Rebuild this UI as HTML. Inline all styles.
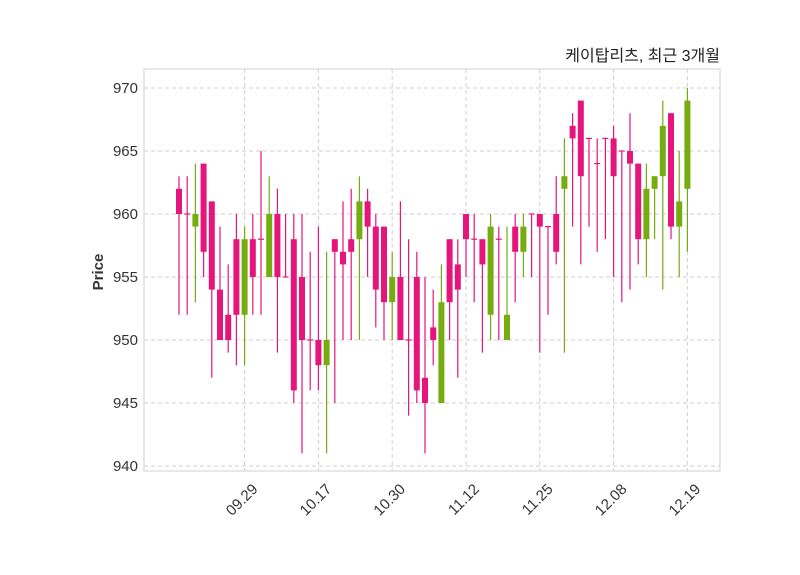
<!DOCTYPE html>
<html><head><meta charset="utf-8"><style>
body{margin:0;background:#fff;}
svg{display:block;font-family:"Liberation Sans","Noto Sans CJK KR",sans-serif;}
</style></head><body>
<svg id="s" width="800" height="575" viewBox="0 0 800 575" xmlns="http://www.w3.org/2000/svg">
<rect x="0" y="0" width="800" height="575" fill="#fff"/>
<g id="grid" stroke="#cfcfcf" stroke-width="1" stroke-dasharray="4,3"></g>
<g id="c"></g>
<rect x="144" y="69" width="576" height="402" fill="none" stroke="#d8d8d8" stroke-width="1.2"/>
<g id="lab" font-size="15" fill="#333"></g>
<text x="720" y="61" text-anchor="end" font-size="16" fill="#222">케이탑리츠, 최근 3개월</text>
<text transform="translate(103,272) rotate(-90)" text-anchor="middle" font-size="15" font-weight="bold" fill="#333">Price</text>
</svg>
<script>
var d=[[962,963,952,960],[960,963,952,960],[959,964,953,960],[964,964,955,957],[961,961,947,954],[954,959,950,950],[952,956,949,950],[958,960,948,952],[952,959,948,958],[958,960,952,955],[958,965,952,958],[955,963,955,960],[960,962,949,955],[955,960,955,955],[958,960,945,946],[955,960,941,950],[950,957,946,950],[950,959,946,948],[948,957,941,950],[958,958,945,957],[957,961,950,956],[958,962,950,957],[958,963,950,961],[961,962,955,959],[959,960,951,954],[959,959,950,953],[953,957,950,955],[955,961,950,950],[950,958,944,950],[955,957,945,946],[947,955,941,945],[951,954,948,950],[945,956,945,953],[958,958,950,953],[956,958,947,954],[960,960,955,958],[958,960,953,958],[958,958,949,956],[952,960,950,959],[958,959,950,958],[950,959,950,952],[959,960,953,957],[957,960,955,959],[960,960,955,960],[960,960,949,959],[959,959,952,959],[960,963,956,957],[962,966,949,963],[967,968,959,966],[969,969,956,963],[966,966,959,966],[964,966,957,964],[966,966,958,966],[966,967,955,963],[965,965,953,965],[965,968,954,964],[964,964,956,958],[958,964,955,962],[962,963,958,963],[963,969,954,967],[968,968,958,959],[959,965,955,961],[962,970,957,969]];
var ns="http://www.w3.org/2000/svg";
function Y(v){return 88+(970-v)*12.6;}
function X(i){return 179+8.2*i;}
function el(t,a,p){var e=document.createElementNS(ns,t);for(var k in a)e.setAttribute(k,a[k]);p.appendChild(e);return e;}
var g=document.getElementById('grid'),c=document.getElementById('c'),L=document.getElementById('lab');
[940,945,950,955,960,965,970].forEach(function(v){el('line',{x1:144,x2:720,y1:Y(v),y2:Y(v)},g);var t=el('text',{x:138,y:Y(v)+5,'text-anchor':'end'},L);t.textContent=v;});
var tk=['09.29','10.17','10.30','11.12','11.25','12.08','12.19'];
tk.forEach(function(s,j){var x=X(8+9*j);el('line',{x1:x,x2:x,y1:69,y2:471},g);var t=el('text',{transform:'translate('+(x+14)+',490) rotate(-45)','text-anchor':'end'},L);t.textContent=s;});
d.forEach(function(r,i){var o=r[0],h=r[1],l=r[2],cl=r[3];var col='#e6157c';if(cl>o)col='#76ac10';var x=X(i);
el('line',{x1:x,x2:x,y1:Y(h),y2:Y(l),stroke:col,'stroke-width':1.2},c);
var t=Y(Math.max(o,cl)),b=Y(Math.min(o,cl));if(b-t<1.2){t-=0.6;b+=0.6;}
el('rect',{x:x-3,y:t,width:6,height:b-t,fill:col},c);});
</script>
</body></html>
